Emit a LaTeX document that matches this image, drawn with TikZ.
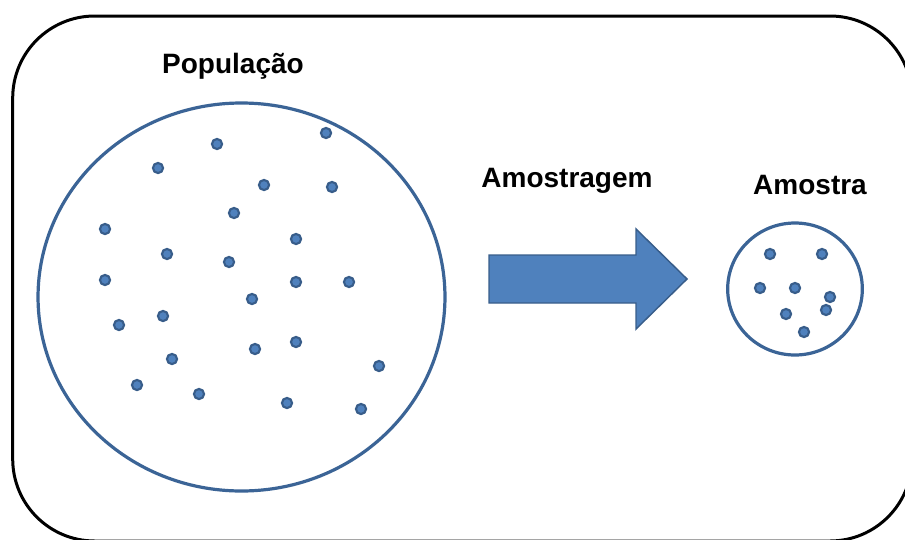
\documentclass[tikz,border=0pt]{standalone}
\usepackage{fontspec}
\setmainfont{Liberation Sans}
\definecolor{dotblue}{HTML}{4F81BD}
\definecolor{lineblue}{HTML}{3B6496}
\definecolor{darkblue}{HTML}{385D8A}
\tikzset{
	dot/.style={fill=dotblue,draw=darkblue,line width=1.6pt},
	rim/.style={draw=lineblue,line width=2.4pt},
	title/.style={anchor=base,inner sep=0pt,font=\fontsize{21}{25}\selectfont\bfseries}
}
\begin{document}
\begin{tikzpicture}[x=0.75pt,y=-0.75pt]

\useasboundingbox (0,0) rectangle (905,539);

% frame
\draw [line width=2.25pt,rounded corners=61.5pt] (12.7,16) rectangle (912,541);

\node [title] (poplabel) at (233,73) {População};
\node [title] (samplinglabel) at (567,187) {Amostragem};
\node [title] (samplelabel) at (810,194) {Amostra};

\draw [rim] (241.5,297) ellipse [x radius=152.6pt, y radius=145.5pt];
\draw [rim] (795,289) ellipse [x radius=50.5pt, y radius=49.5pt];

\draw [fill=dotblue,draw=darkblue,line width=1.1pt,line join=miter]
	(489,255) -- (636,255) -- (636,229) -- (687,279) --
	(636,329) -- (636,303) -- (489,303) -- cycle;

\foreach \x in {
	(217,144), (326,133), (158,168), (264,185), (332,187),
	(234,213), (105,229), (296,239), (167,254), (229,262),
	(105,280), (296,282), (349,282), (252,299), (163,316),
	(119,325), (255,349), (296,342), (172,359), (379,366),
	(137,385), (199,394), (287,403), (361,409)
} {
	\draw [dot] \x circle (3.8pt);
}

\foreach \x in {
	(770,254), (822,254), (760,288), (795,288),
	(830,297), (826,310), (786,314), (804,332)
} {
	\draw [dot] \x circle (3.8pt);
}

\end{tikzpicture}
\end{document}
